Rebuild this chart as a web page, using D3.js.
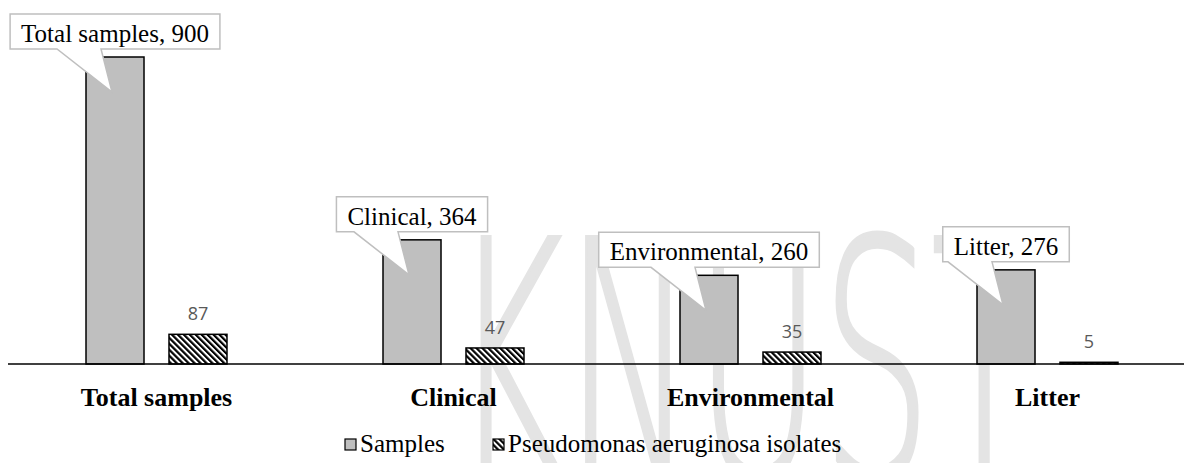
<!DOCTYPE html>
<meta charset="utf-8">
<style>
body { margin: 0; background: #fff; }
.bar { stroke: #000; stroke-width: 1.5px; }
</style>
<body>
<script src="https://d3js.org/d3.v7.min.js"></script>
<script>

// data
var categories = ["Total samples", "Clinical", "Environmental", "Litter"];
var seriesNames = ["Samples", "Pseudomonas aeruginosa isolates"];
var samples = [900, 364, 260, 276];
var isolates = [87, 47, 35, 5];

var width = 1184, height = 463;
var baseY = 364, topY = 57;
var serif = "'Liberation Serif', 'Times New Roman', serif";

var svg = d3.select("body").append("svg")
    .attr("width", width)
    .attr("height", height);

// hatch pattern for the isolates bars
var defs = svg.append("defs");
var pat = defs.append("pattern")
    .attr("id", "hatch")
    .attr("patternUnits", "userSpaceOnUse")
    .attr("width", 4.2)
    .attr("height", 4.2)
    .attr("patternTransform", "rotate(-45)");
pat.append("rect").attr("width", 4.2).attr("height", 4.2).attr("fill", "#fff");
pat.append("rect").attr("width", 2.2).attr("height", 4.2).attr("fill", "#000");

// faint watermark behind the chart
svg.append("text")
    .attr("x", 452)
    .attr("y", 478)
    .attr("textLength", 585)
    .attr("lengthAdjust", "spacingAndGlyphs")
    .attr("font-family", "DejaVu Sans")
    .attr("font-weight", 200)
    .attr("font-size", 330)
    .attr("fill", "#e4e4e4")
    .attr("stroke", "#e4e4e4")
    .attr("stroke-width", 5)
    .text("KNUST");

// scales
var x = d3.scaleBand().domain(categories).range([8, 1196]).padding(0);
var xs = d3.scaleBand().domain(seriesNames).range([0, x.bandwidth()])
    .paddingInner(0.301).paddingOuter(0.94);
var y = d3.scaleLinear().domain([0, 900]).range([baseY, topY]);

var rows = categories.map(function(c, i) {
  return {cat: c, values: [samples[i], isolates[i]]};
});

var g = svg.selectAll(".grp")
    .data(rows)
  .enter().append("g")
    .attr("transform", function(d) { return "translate(" + x(d.cat) + ",0)"; });

g.selectAll("rect")
    .data(function(d) { return d.values.map(function(v, j) { return {s: seriesNames[j], v: v, j: j}; }); })
  .enter().append("rect")
    .attr("class", "bar")
    .attr("x", function(d) { return xs(d.s); })
    .attr("width", xs.bandwidth())
    .attr("y", function(d) { return y(d.v); })
    .attr("height", function(d) { return baseY - y(d.v); })
    .attr("fill", function(d) { return d.j === 0 ? "#bfbfbf" : "url(#hatch)"; });

// value labels on isolates bars
g.append("text")
    .attr("x", function(d) { return xs(seriesNames[1]) + xs.bandwidth() / 2; })
    .attr("y", function(d) { return y(d.values[1]) - 14; })
    .attr("text-anchor", "middle")
    .attr("font-family", "Open Sans")
    .attr("font-size", 18)
    .attr("fill", "#595959")
    .text(function(d) { return d.values[1]; });

// x axis line
var xAxis = svg.append("g")
    .attr("transform", "translate(0," + baseY + ")")
    .call(d3.axisBottom(x).tickSize(0).tickPadding(24));
xAxis.select(".domain").attr("stroke", "#000").attr("stroke-width", 1.5)
    .attr("d", "M8,0H1184");
xAxis.selectAll(".tick text")
    .attr("font-family", serif)
    .attr("font-weight", "bold")
    .attr("font-size", 26)
    .attr("fill", "#000");

// callouts on sample bars
g.each(function(d) {
  var grp = d3.select(this);
  var cx = xs(seriesNames[0]) + xs.bandwidth() / 2;
  var top = y(d.values[0]);
  var lab = grp.append("text")
      .attr("font-family", serif)
      .attr("font-size", 25)
      .attr("text-anchor", "middle")
      .attr("x", cx)
      .attr("y", top - 15)
      .text(d.cat + ", " + d.values[0]);
  var w = lab.node().getComputedTextLength() + 22;
  var l = cx - w / 2, r = cx + w / 2, bt = top - 8, tp = bt - 35;
  var path = "M" + l + "," + tp + "H" + r + "V" + bt +
      "H" + (cx - 14) + "L" + (cx - 3) + "," + (top + 35) +
      "L" + Math.max(l + 3, cx - 58) + "," + bt + "H" + l + "Z";
  grp.insert("path", "text:last-of-type")
      .attr("d", path)
      .attr("fill", "#fff")
      .attr("stroke", "#bfbfbf")
      .attr("stroke-width", 1.5);
  lab.raise();
});

// legend
var legend = svg.append("g").attr("transform", "translate(0,452)");
var legX = [345, 493];
seriesNames.forEach(function(s, i) {
  legend.append("rect")
      .attr("x", legX[i])
      .attr("y", -13)
      .attr("width", 11)
      .attr("height", 11)
      .attr("stroke", "#000")
      .attr("stroke-width", 1.2)
      .attr("fill", i === 0 ? "#bfbfbf" : "url(#hatch)");
  legend.append("text")
      .attr("x", legX[i] + 15)
      .attr("y", 0)
      .attr("font-family", serif)
      .attr("font-size", 25)
      .text(s);
});

</script>
</body>
